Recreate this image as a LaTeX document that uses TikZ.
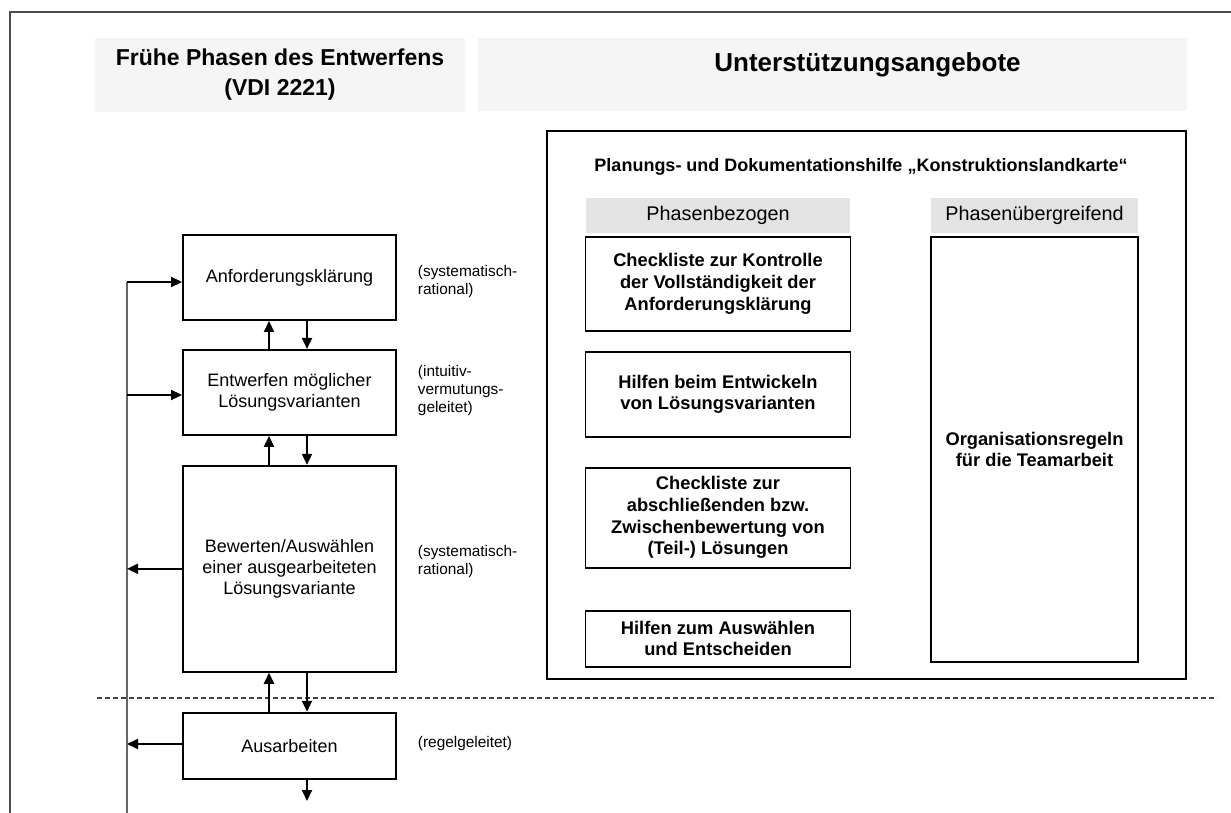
\documentclass[tikz,border=0pt]{standalone}
\usepackage{fontspec}
\setmainfont{Liberation Sans}
\usepackage{tikz}
\usetikzlibrary{arrows.meta,positioning}

\begin{document}
\begin{tikzpicture}[x=1pt,y=-1pt,>={Triangle[length=11pt,width=10pt]},line width=1.9pt,
  phase node/.style={draw,inner sep=0pt,minimum width=213pt,align=center,font=\fontsize{18}{21}\selectfont},
  aid node/.style={draw,inner sep=0pt,minimum width=265pt,align=center,font=\bfseries\fontsize{18.3}{21.7}\selectfont},
  tab node/.style={fill=black!11,inner sep=0pt,minimum height=35pt,font=\fontsize{19.8}{23}\selectfont},
  head node/.style={fill=black!4,inner sep=0pt},
  note node/.style={anchor=west,align=left,inner sep=0pt,font=\fontsize{15.4}{18}\selectfont}]

	\useasboundingbox (0,0) rectangle (1231,813);
	% frame
	\draw[black!70,line width=1.5pt] (10,813) -- (10,12) -- (1231,12);

	% headers
	\node[head node,minimum width=370pt,minimum height=74pt,align=center,font=\bfseries\fontsize{23}{30}\selectfont] (hd1) at (280,75) {Frühe Phasen des Entwerfens\\(VDI 2221)};
	\node[head node,minimum width=709pt,minimum height=73pt] (hd2) at (832.5,74.5) {};
	\node[font=\bfseries\fontsize{26}{30}\selectfont] (hd2 text) at (867.5,65) {Unterstützungsangebote};

	% Konstruktionslandkarte
	\node[draw,inner sep=0pt,minimum width=639pt,minimum height=548pt] (map) at (866.5,405) {};
	\node[font=\bfseries\fontsize{18}{21}\selectfont] (map title) at (861,167) {Planungs- und Dokumentationshilfe „Konstruktionslandkarte“};

	\node[tab node,minimum width=264pt] (tab1) at (718,215.5) {Phasenbezogen};
	\node[aid node,minimum height=94pt,below=2pt of tab1] (aid1) {Checkliste zur Kontrolle\\der Vollständigkeit der\\Anforderungsklärung};
	\node[aid node,minimum height=85pt,below=19pt of aid1] (aid2) {Hilfen beim Entwickeln\\von Lösungsvarianten};
	\node[aid node,minimum height=100pt,below=29pt of aid2] (aid3) {Checkliste zur\\abschließenden bzw.\\Zwischenbewertung von\\(Teil-) Lösungen};
	\node[aid node,minimum height=56pt,below=41pt of aid3] (aid4) {Hilfen zum Auswählen\\und Entscheiden};

	\node[tab node,minimum width=207pt] (tab2) at (1034.5,215.5) {Phasenübergreifend};
	\node[aid node,minimum width=207pt,minimum height=425pt,below=2pt of tab2] (org) {Organisationsregeln\\für die Teamarbeit};

	% Phasen
	\node[phase node,minimum height=85pt] (p1) at (289.5,277.5) {Anforderungsklärung};
	\node[phase node,minimum height=85pt,below=28pt of p1] (p2) {Entwerfen möglicher\\Lösungsvarianten};
	\node[phase node,minimum height=206pt,below=29pt of p2] (p3) {Bewerten/Auswählen\\einer ausgearbeiteten\\Lösungsvariante};
	\node[phase node,minimum height=66pt,below=39pt of p3] (p4) {Ausarbeiten};

	\node[note node] (n1) at (417,282) {(systematisch-\\rational)};
	\node[note node] (n2) at (417,391) {(intuitiv-\\vermutungs-\\geleitet)};
	\node[note node] (n3) at (417,562) {(systematisch-\\rational)};
	\node[note node] (n4) at (417,744) {(regelgeleitet)};

	\coordinate (sep l) at (97,698);
	\coordinate (sep r) at (1217,698);
	\draw[dash pattern=on 5pt off 3pt,line width=1.5pt,black!75] (sep l) -- (sep r);

	\foreach \a/\b in {p1/p2,p2/p3,p3/p4}{
		\draw[->] ([xshift=-20.5pt]\b.north) -- ([xshift=-20.5pt]\a.south);
		\draw[->] ([xshift=17.5pt]\a.south) -- ([xshift=17.5pt]\b.north);
	}
	\coordinate (out) at (307,801);
	\draw[->] ([xshift=17.5pt]p4.south) -- (out);

	% Ruecksprung
	\coordinate (fb top) at (127,282);
	\coordinate (fb p2) at (127,395);
	\coordinate (fb p4) at (127,744);
	\coordinate (fb end) at (127,813);
	\draw[black!60] (fb top) -- (fb end);
	\draw[->] (fb top) -- (fb top -| p1.west);
	\draw[->] (fb p2) -- (fb p2 -| p2.west);
	\draw[->] (p3.west) -- (p3.west -| fb top);
	\draw[->] (fb p4 -| p4.west) -- (fb p4);
\end{tikzpicture}
\end{document}
